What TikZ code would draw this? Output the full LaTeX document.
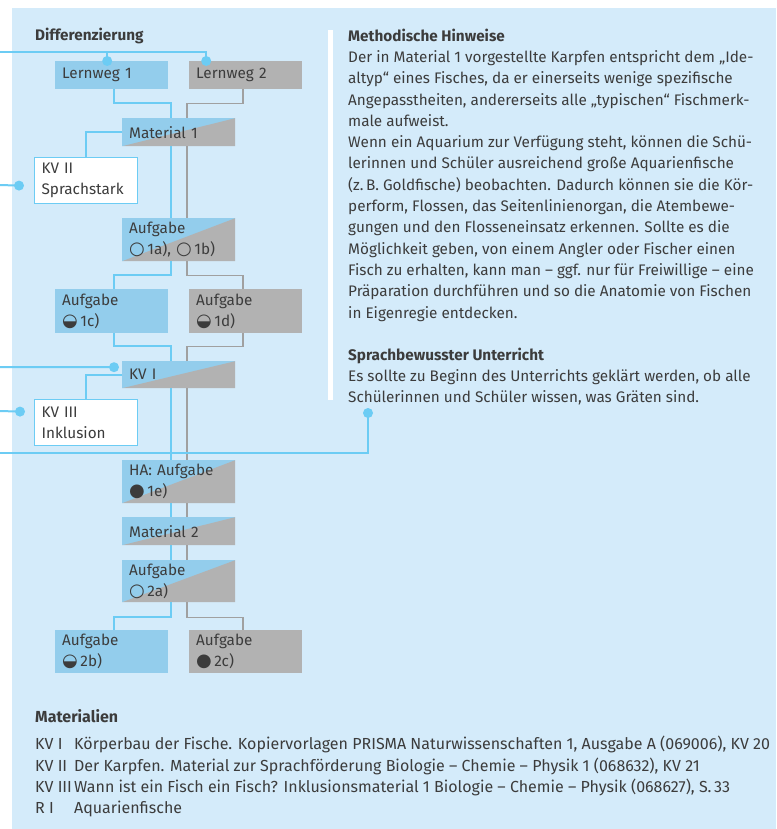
\documentclass[tikz,border=0pt]{standalone}
\usepackage{fontspec}
\setmainfont{Fira Sans}
\newfontfamily\symfont{DejaVu Sans}
\usetikzlibrary{positioning}

% 定义颜色
\definecolor{hintergrund}{RGB}{212,235,250}
\definecolor{kastenblau}{RGB}{147,205,236}
\definecolor{kastengrau}{RGB}{178,178,178}
\definecolor{linieblau}{RGB}{108,204,244}
\definecolor{liniegrau}{RGB}{160,160,160}
\definecolor{schrift}{RGB}{60,60,60}

% 符号: 空心圆, 半圆, 实心圆
\newcommand{\leicht}{{\symfont\fontsize{18}{18}\selectfont ○}}
\newcommand{\mittel}{{\symfont\fontsize{18}{18}\selectfont ◒}}
\newcommand{\schwer}{{\symfont\fontsize{18}{18}\selectfont ●}}

\begin{document}
\begin{tikzpicture}[x=1pt, y=-1pt,
    every node/.style={text=schrift, font=\fontsize{15.3}{21.3}\selectfont, inner sep=0pt},
    kasten/.style={anchor=north west, minimum width=113pt, text width=99pt, inner xsep=7pt, align=left},
    blaukasten/.style={kasten, fill=kastenblau},
    graukasten/.style={kasten, fill=kastengrau},
    teilkasten/.style={kasten, fill=kastenblau, path picture={
        \fill[kastengrau] (path picture bounding box.south west) -- (path picture bounding box.north east)
          -- (path picture bounding box.south east) -- cycle;}},
    kvkasten/.style={kasten, fill=white, draw=linieblau, line width=1.2pt, minimum width=103pt, text width=89pt},
    blaulinie/.style={draw=linieblau, line width=2pt},
    graulinie/.style={draw=liniegrau, line width=1.6pt},
    punkt/.style={fill=linieblau, circle, minimum size=10pt, inner sep=0pt},
    titel/.style={font=\fontsize{15.3}{21.3}\selectfont\bfseries}
  ]

  % 背景: 776 x 829 像素
  \useasboundingbox (0,0) rectangle (776,829);
  \fill[white] (0,0) rectangle (776,829);
  \fill[hintergrund] (12,8) rectangle (776,829);
  \fill[white] (328,30) rectangle (333,400);

  % 左列: 学习路径
  \node[titel, anchor=base west] (diff) at (35,40.5) {Differenzierung};

  \node[blaukasten, minimum height=28pt] (lw1) at (55,61) {Lernweg 1};
  \node[graukasten, minimum height=28pt] (lw2) at (189,61) {Lernweg 2};
  \node[teilkasten, minimum height=28pt] (mat1) at (122,118) {Material 1};
  \node[kvkasten, minimum height=46pt] (kv2) at (34,157) {KV II\\Sprachstark};
  \node[teilkasten, minimum height=43pt] (a1ab) at (122,218) {Aufgabe\\\leicht\,1a), \leicht\,1b)};
  \node[blaukasten, minimum height=44pt] (a1c) at (55,289) {Aufgabe\\\mittel\,1c)};
  \node[graukasten, minimum height=44pt] (a1d) at (189,289) {Aufgabe\\\mittel\,1d)};
  \node[teilkasten, minimum height=27pt] (kv1) at (122,361) {KV I};
  \node[kvkasten, minimum height=46pt] (kv3) at (34,399) {KV III\\Inklusion};
  \node[teilkasten, minimum height=43pt] (ha) at (122,460) {HA: Aufgabe\\\schwer\,1e)};
  \node[teilkasten, minimum height=28pt] (mat2) at (122,517) {Material 2};
  \node[teilkasten, minimum height=42pt] (a2a) at (122,560) {Aufgabe\\\leicht\,2a)};
  \node[blaukasten, minimum height=43pt] (a2b) at (55,630) {Aufgabe\\\mittel\,2b)};
  \node[graukasten, minimum height=43pt] (a2c) at (189,630) {Aufgabe\\\schwer\,2c)};

  % 蓝色路线 (Lernweg 1)
  \draw[blaulinie] ([xshift=2.5pt]lw1.south) -- ++(0,14) -| ([xshift=-7.5pt]mat1.north);
  \draw[blaulinie] ([xshift=-7.5pt]mat1.south) -- ([xshift=-7.5pt]a1ab.north);
  \draw[blaulinie] ([xshift=-7.5pt]a1ab.south) -- ++(0,14) -| ([xshift=2.5pt]a1c.north);
  \draw[blaulinie] ([xshift=2.5pt]a1c.south) -- ++(0,13) -| ([xshift=-7.5pt]kv1.north);
  \draw[blaulinie] ([xshift=-7.5pt]kv1.south) -- ([xshift=-7.5pt]ha.north);
  \draw[blaulinie] ([xshift=-7.5pt]ha.south) -- ([xshift=-7.5pt]mat2.north);
  \draw[blaulinie] ([xshift=-7.5pt]mat2.south) -- ([xshift=-7.5pt]a2a.north);
  \draw[blaulinie] ([xshift=-7.5pt]a2a.south) -- ++(0,15) -| ([xshift=2.5pt]a2b.north);
  \draw[blaulinie] (mat1.west) -| (kv2.north);
  \draw[blaulinie] (kv1.west) -| (kv3.north);

  % 灰色路线 (Lernweg 2)
  \draw[graulinie] ([xshift=-2.5pt]lw2.south) -- ++(0,14) -| ([xshift=8.5pt]mat1.north);
  \draw[graulinie] ([xshift=8.5pt]mat1.south) -- ([xshift=8.5pt]a1ab.north);
  \draw[graulinie] ([xshift=8.5pt]a1ab.south) -- ++(0,14) -| ([xshift=-2.5pt]a1d.north);
  \draw[graulinie] ([xshift=-2.5pt]a1d.south) -- ++(0,13) -| ([xshift=8.5pt]kv1.north);
  \draw[graulinie] ([xshift=8.5pt]kv1.south) -- ([xshift=8.5pt]ha.north);
  \draw[graulinie] ([xshift=8.5pt]ha.south) -- ([xshift=8.5pt]mat2.north);
  \draw[graulinie] ([xshift=8.5pt]mat2.south) -- ([xshift=8.5pt]a2a.north);
  \draw[graulinie] ([xshift=8.5pt]a2a.south) -- ++(0,15) -| ([xshift=-2.5pt]a2c.north);

  % 从左边进来的线和圆点
  \coordinate (lwein) at (0,52);
  \coordinate (kv2ein) at (0,185);
  \coordinate (kv1ein) at (0,367);
  \coordinate (kv3ein) at (0,411);
  \coordinate (r1ein) at (0,453);
  \coordinate (r1punkt) at (368,413);

  \draw[blaulinie] (lwein) -| ([xshift=-39.5pt]lw2.north) node[punkt] {};
  \draw[blaulinie] ([xshift=-4.5pt]lw1.north) -- ++(0,-9) node[pos=0,punkt] {};
  \draw[blaulinie] (kv2ein) -- ([shift={(-15,5)}]kv2.west) node[punkt] {};
  \draw[blaulinie] (kv1ein) -- ([shift={(-8,-7.5)}]kv1.west) node[punkt] {};
  \draw[blaulinie] (kv3ein) -- ([shift={(-14,-11)}]kv3.west) node[punkt] {};
  \draw[blaulinie] (r1ein) -| (r1punkt) node[punkt] {};

  % 右列: 文字
  \node[anchor=north west, align=left] (hinweise) at (348,28.5) {%
    \textbf{Methodische Hinweise}\\
    Der in Material 1 vorgestellte Karpfen entspricht dem „Ide-\\
    altyp“ eines Fisches, da er einerseits wenige spezifische\\
    Angepasstheiten, andererseits alle „typischen“ Fischmerk-\\
    male aufweist.\\
    Wenn ein Aquarium zur Verfügung steht, können die Schü-\\
    lerinnen und Schüler ausreichend große Aquarienfische\\
    (z.\,B. Goldfische) beobachten. Dadurch können sie die Kör-\\
    perform, Flossen, das Seitenlinienorgan, die Atembewe-\\
    gungen und den Flosseneinsatz erkennen. Sollte es die\\
    Möglichkeit geben, von einem Angler oder Fischer einen\\
    Fisch zu erhalten, kann man – ggf. nur für Freiwillige – eine\\
    Präparation durchführen und so die Anatomie von Fischen\\
    in Eigenregie entdecken.};
  \node[anchor=north west, align=left] (sprache) at (348,347.5) {%
    \textbf{Sprachbewusster Unterricht}\\
    Es sollte zu Beginn des Unterrichts geklärt werden, ob alle\\
    Schülerinnen und Schüler wissen, was Gräten sind.};

  % 下方: 材料
  \node[anchor=north west, align=left, font=\fontsize{16}{21.3}\selectfont] (material) at (35,707.5) {%
    \begin{tabular}{@{}p{39pt}@{}l@{}}
      \multicolumn{2}{@{}l}{\textbf{Materialien}}\\[6pt]
      KV I & Körperbau der Fische. Kopiervorlagen PRISMA Naturwissenschaften 1, Ausgabe A (069006), KV 20\\
      KV II & Der Karpfen. Material zur Sprachförderung Biologie – Chemie – Physik 1 (068632), KV 21\\
      KV III & Wann ist ein Fisch ein Fisch? Inklusionsmaterial 1 Biologie – Chemie – Physik (068627), S.\,33\\
      R I & Aquarienfische
    \end{tabular}};
\end{tikzpicture}
\end{document}
